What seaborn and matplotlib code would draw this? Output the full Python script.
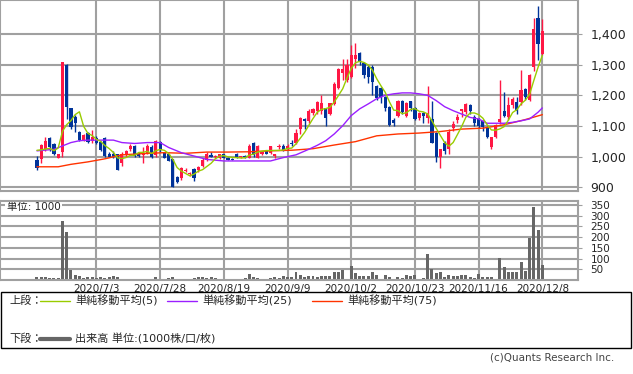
import matplotlib
matplotlib.use("Agg")
import matplotlib.pyplot as plt
import seaborn as sns
import pandas as pd
from matplotlib.patches import Rectangle
from matplotlib.lines import Line2D

# daily candles (120 trading days up to 2020/12/8)
opens = [988, 993, 1024, 1061, 1041, 997, 1016, 1298, 1159, 1131,
         1081, 1054, 1078, 1050, 1060, 1049, 1061, 1010, 1008, 1008,
         979, 1005, 1026, 1035, 1010, 1005, 1013, 1030, 1005, 1048,
         1013, 1008, 991, 933, 931, 953, 942, 960, 955, 969,
         988, 1004, 999, 997, 1008, 997, 993, 1010, 998, 1002,
         997, 1045, 997, 1010, 1019, 1013, 1002, 1030, 1035, 1024,
         1045, 1044, 1090, 1124, 1115, 1141, 1150, 1150, 1158, 1139,
         1172, 1225, 1272, 1250, 1260, 1320, 1337, 1304, 1293, 1293,
         1229, 1225, 1194, 1161, 1120, 1134, 1180, 1134, 1180, 1159,
         1126, 1141, 1126, 1123, 1076, 1000, 1046, 1024, 1092, 1121,
         1148, 1145, 1170, 1128, 1123, 1117, 1098, 1032, 1063, 1112,
         1150, 1128, 1167, 1178, 1178, 1222, 1186, 1293, 1452, 1334]
highs = [1002, 1042, 1064, 1064, 1046, 1010, 1310, 1302, 1160, 1135,
         1085, 1075, 1080, 1088, 1068, 1052, 1063, 1015, 1020, 1010,
         1015, 1022, 1040, 1038, 1015, 1030, 1040, 1037, 1055, 1050,
         1015, 1010, 992, 937, 966, 962, 950, 962, 970, 995,
         1015, 1016, 1005, 1010, 1010, 998, 995, 1012, 1003, 1005,
         1040, 1048, 1038, 1018, 1022, 1036, 1010, 1040, 1040, 1040,
         1055, 1090, 1130, 1126, 1155, 1160, 1180, 1200, 1160, 1176,
         1245, 1290, 1317, 1320, 1365, 1370, 1340, 1310, 1300, 1300,
         1235, 1228, 1198, 1165, 1125, 1186, 1185, 1178, 1182, 1162,
         1145, 1145, 1229, 1180, 1080, 1026, 1050, 1090, 1115, 1140,
         1157, 1175, 1173, 1135, 1125, 1120, 1100, 1065, 1108, 1249,
         1210, 1195, 1195, 1195, 1284, 1225, 1270, 1452, 1492, 1450]
lows = [956, 980, 1018, 1019, 1005, 995, 1000, 1124, 1090, 1082,
        1050, 1050, 1045, 1046, 1040, 1018, 1000, 998, 995, 955,
        970, 1000, 1020, 1000, 998, 980, 1010, 995, 1000, 1015,
        995, 985, 900, 915, 925, 950, 938, 920, 950, 965,
        985, 999, 995, 993, 995, 988, 988, 995, 995, 995,
        995, 1000, 995, 1005, 1008, 1010, 995, 1025, 1018, 1022,
        1035, 1040, 1075, 1090, 1110, 1135, 1140, 1140, 1100, 1135,
        1168, 1220, 1250, 1245, 1255, 1290, 1300, 1255, 1240, 1200,
        1185, 1175, 1150, 1100, 1100, 1130, 1140, 1130, 1150, 1120,
        1120, 1110, 1110, 1045, 984, 962, 1010, 1010, 1085, 1110,
        1128, 1140, 1140, 1100, 1095, 1085, 1060, 1025, 1060, 1108,
        1130, 1120, 1160, 1140, 1170, 1185, 1180, 1280, 1315, 1330]
closes = [964, 1038, 1052, 1033, 1010, 1008, 1308, 1163, 1098, 1109,
          1054, 1070, 1049, 1063, 1046, 1021, 1002, 1000, 1000, 957,
          1010, 1019, 1035, 1003, 1002, 1012, 1035, 999, 1050, 1022,
          997, 986, 901, 917, 964, 958, 948, 929, 965, 988,
          1010, 1000, 1002, 1008, 997, 990, 990, 1000, 1002, 999,
          1035, 1005, 1035, 1015, 1010, 1034, 1008, 1035, 1022, 1035,
          1040, 1077, 1126, 1115, 1150, 1154, 1178, 1175, 1126, 1174,
          1238, 1285, 1285, 1300, 1331, 1330, 1310, 1265, 1260, 1245,
          1191, 1195, 1159, 1104, 1110, 1183, 1145, 1174, 1158, 1123,
          1141, 1134, 1141, 1046, 1000, 1024, 1019, 1081, 1107, 1128,
          1156, 1172, 1148, 1109, 1101, 1098, 1065, 1063, 1104, 1123,
          1134, 1170, 1189, 1150, 1218, 1194, 1265, 1416, 1366, 1410]
# volume in 1000 shares
volumes = [12, 12, 12, 8, 10, 10, 275, 224, 47, 22,
           18, 10, 12, 12, 10, 12, 10, 12, 19, 12,
           6, 6, 3, 3, 3, 3, 6, 6, 15, 5,
           6, 8, 12, 6, 5, 3, 6, 11, 15, 15,
           11, 12, 9, 6, 5, 6, 2, 2, 6, 11,
           28, 12, 9, 6, 6, 9, 15, 11, 19, 15,
           15, 36, 25, 15, 19, 19, 16, 20, 19, 19,
           37, 36, 46, 5, 65, 34, 19, 19, 17, 39,
           25, 6, 23, 12, 3, 12, 11, 23, 18, 25,
           6, 9, 121, 51, 34, 37, 12, 23, 19, 19,
           25, 23, 16, 11, 28, 12, 12, 12, 7, 101,
           59, 39, 36, 39, 84, 44, 198, 339, 233, 68]
# closes of the 4 days before the first candle (for the 5-day average)
prior_closes = [1030, 1040, 1020, 1050]

# moving averages
ma25_days = [0, 4, 6, 8, 10, 12, 18, 20, 23, 26, 29, 31, 34, 37, 40, 44, 48, 55,
             58, 61, 64, 66, 68, 70, 72, 74, 76, 78, 80, 82, 84, 86, 88, 90, 92,
             94, 96, 98, 100, 102, 104, 106, 108, 110, 112, 114, 116, 118, 119]
ma25_vals = [1019, 1024, 1035, 1046, 1052, 1054, 1054, 1046, 1043, 1046, 1046,
             1030, 1013, 1002, 991, 986, 986, 986, 997, 1006, 1024, 1037, 1052,
             1074, 1101, 1134, 1156, 1172, 1189, 1200, 1205, 1208, 1208, 1205,
             1200, 1183, 1163, 1150, 1139, 1128, 1123, 1109, 1109, 1109, 1112,
             1117, 1123, 1145, 1159]
ma75_days = [0, 5, 8, 12, 16, 20, 25, 30, 35, 40, 45, 50, 55, 60, 65, 70, 75,
             80, 85, 90, 95, 100, 105, 110, 115, 119]
ma75_vals = [967, 967, 975, 983, 993, 1006, 1010, 1013, 1011, 1015, 1015, 1016,
             1019, 1021, 1026, 1038, 1049, 1068, 1074, 1077, 1082, 1090, 1093,
             1104, 1121, 1137]

date_labels = ["2020/7/3", "2020/7/28", "2020/8/19", "2020/9/9",
               "2020/10/2", "2020/10/23", "2020/11/16", "2020/12/8"]
price_ticks = [900, 1000, 1100, 1200, 1300, 1400]
volume_ticks = [50, 100, 150, 200, 250, 300, 350]

RED = "#ff1744"
BLUE = "#003399"
GRID = "#a0a0a0"

sns.set_style("white")
plt.rcParams["font.family"] = ["DejaVu Sans", "Noto Sans CJK JP"]

df = pd.DataFrame({"open": opens, "high": highs, "low": lows,
                   "close": closes, "volume": volumes})
df["day"] = range(len(df))
df["up"] = df["close"] >= df["open"]
df["ma5"] = pd.Series(prior_closes + closes).rolling(5).mean().iloc[4:].values
ma25 = pd.DataFrame({"day": ma25_days, "ma": ma25_vals})
ma75 = pd.DataFrame({"day": ma75_days, "ma": ma75_vals})

n = len(df)
tick_pos = [n - 1 - 15 * k for k in range(len(date_labels))][::-1]
xlim = (-8.7, 127.4)

fig = plt.figure(figsize=(6.33, 3.74), dpi=100)
W, H = 633, 374


def px_axes(x0, y0, x1, y1):
    return fig.add_axes([x0 / W, 1 - y1 / H, (x1 - x0) / W, (y1 - y0) / H])


ax = px_axes(0, 0, 578, 190.7)
axv = px_axes(0, 201, 578, 280)

# candles
colors = [RED if u else BLUE for u in df["up"]]
ax.vlines(df["day"], df["low"], df["high"], colors=colors, lw=1, zorder=3)
body_lo = df[["open", "close"]].min(axis=1)
body_h = (df["close"] - df["open"]).abs().clip(lower=2)
ax.bar(df["day"], body_h, bottom=body_lo, width=0.75, color=colors,
       linewidth=0, zorder=4)

sns.lineplot(data=ma75, x="day", y="ma", ax=ax, color="#ff3300", lw=1,
             estimator=None, zorder=5)
sns.lineplot(data=ma25, x="day", y="ma", ax=ax, color="#9b1fff", lw=1,
             estimator=None, zorder=5)
sns.lineplot(data=df, x="day", y="ma5", ax=ax, color="#99cc00", lw=1,
             estimator=None, zorder=6)

ax.set_xlim(*xlim)
ax.set_ylim(889, 1511)
ax.set_yticks(price_ticks)
ax.set_yticklabels([f"{v:,}" for v in price_ticks])
ax.set_xticks(tick_pos)
ax.set_xticklabels([])
ax.yaxis.tick_right()

# volume
sns.barplot(data=df, x="day", y="volume", ax=axv, native_scale=True,
            color="#666666", width=0.7, errorbar=None, saturation=1,
            linewidth=0)
axv.set_xlim(*xlim)
axv.set_ylim(0, 369)
axv.set_yticks(volume_ticks)
axv.set_xticks(tick_pos)
axv.set_xticklabels(date_labels)
axv.yaxis.tick_right()
axv.text(0.012, 0.93, "単位: 1000", transform=axv.transAxes, fontsize=7.5,
         va="center", ha="left", zorder=2,
         bbox=dict(facecolor="white", edgecolor="none", pad=1.2))

for a, fs in ((ax, 9), (axv, 7.5)):
    a.set_xlabel("")
    a.set_ylabel("")
    a.grid(True, color=GRID, lw=1.5)
    a.set_axisbelow(True)
    for s in a.spines.values():
        s.set_color(GRID)
        s.set_linewidth(1.5)
    a.tick_params(axis="y", length=3, color=GRID, pad=6, labelsize=fs)
    a.tick_params(axis="x", length=0, pad=3, labelsize=7.5)

# legend box
fig.add_artist(Rectangle((1 / W, 1 - 348 / H), 630 / W, 56 / H,
                         transform=fig.transFigure, fill=False,
                         edgecolor="black", lw=1))


def fx(x):
    return x / W


def fy(y):
    return 1 - y / H


row1, row2 = 301, 339
fig.text(fx(9), fy(row1), "上段：", fontsize=8, va="center")
for x0, col, label in ((40, "#99cc00", "単純移動平均(5)"),
                       (167, "#9b1fff", "単純移動平均(25)"),
                       (312, "#ff3300", "単純移動平均(75)")):
    fig.add_artist(Line2D([fx(x0), fx(x0 + 30)], [fy(row1), fy(row1)],
                          color=col, lw=1, transform=fig.transFigure))
    fig.text(fx(x0 + 35), fy(row1), label, fontsize=8, va="center")
fig.text(fx(9), fy(row2), "下段：", fontsize=8, va="center")
fig.add_artist(Line2D([fx(40), fx(70)], [fy(row2), fy(row2)],
                      color="#666666", lw=3, transform=fig.transFigure))
fig.text(fx(75), fy(row2), "出来高 単位:(1000株/口/枚)", fontsize=8, va="center")
fig.text(fx(614), fy(357), "(c)Quants Research Inc.", fontsize=7.5,
         ha="right", va="center", color="#444444")

fig.savefig("out.png", dpi=100)
